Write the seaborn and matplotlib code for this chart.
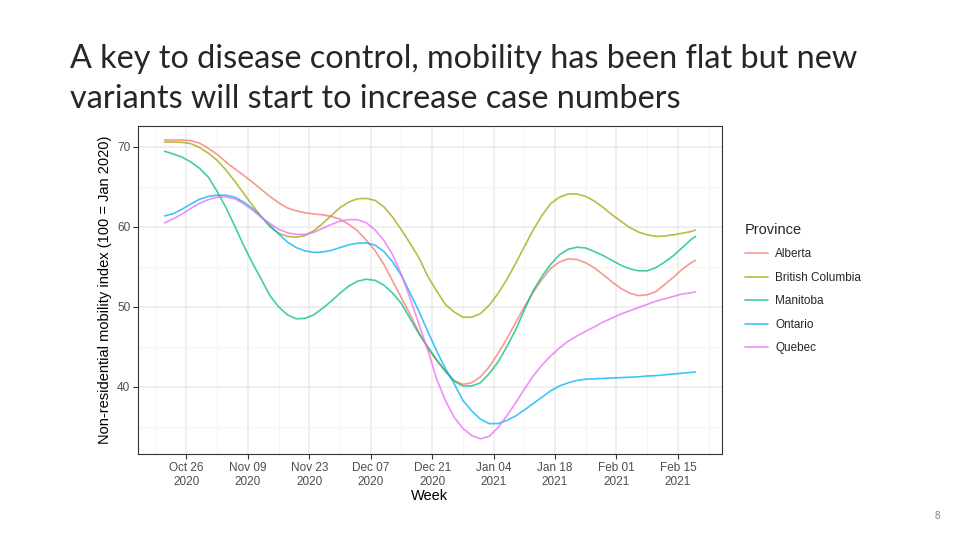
import pandas as pd
import seaborn as sns
import matplotlib.pyplot as plt
import matplotlib.dates as mdates

# smoothed mobility index, every 2 days from Oct 21 2020 (last one Feb 19 2021)
start = pd.Timestamp("2020-10-21")
day_offsets = list(range(0, 121, 2)) + [121]

alberta = [70.86, 70.85, 70.83, 70.78, 70.45, 69.8, 69.05, 68.1, 67.25, 66.45,
           65.6, 64.7, 63.8, 63.0, 62.35, 62.0, 61.75, 61.6, 61.5, 61.3,
           60.95, 60.3, 59.5, 58.3, 57.0, 55.3, 53.2, 51.1, 49.0, 46.8,
           44.8, 43.3, 41.9, 40.8, 40.3, 40.5, 41.25, 42.5, 44.15, 46.0,
           48.0, 50.0, 51.8, 53.4, 54.8, 55.6, 56.0, 55.9, 55.5, 54.85,
           54.0, 53.1, 52.3, 51.7, 51.4, 51.5, 51.9, 52.8, 53.7, 54.7,
           55.5, 55.8]
british_columbia = [70.6, 70.6, 70.55, 70.4, 69.9, 69.2, 68.3, 67.1, 65.7, 64.2,
                    62.7, 61.3, 60.0, 59.2, 58.8, 58.7, 58.9, 59.5, 60.4, 61.4,
                    62.4, 63.1, 63.5, 63.55, 63.3, 62.5, 61.2, 59.6, 57.9, 56.1,
                    53.8, 52.0, 50.3, 49.35, 48.7, 48.7, 49.15, 50.2, 51.65, 53.4,
                    55.4, 57.5, 59.6, 61.4, 62.9, 63.7, 64.1, 64.1, 63.8, 63.2,
                    62.4, 61.5, 60.7, 59.9, 59.35, 59.0, 58.8, 58.85, 59.0, 59.2,
                    59.4, 59.6]
manitoba = [69.45, 69.1, 68.7, 68.1, 67.3, 66.2, 64.4, 62.4, 60.1, 57.7,
            55.5, 53.5, 51.4, 50.0, 49.0, 48.5, 48.55, 49.0, 49.8, 50.7,
            51.7, 52.6, 53.2, 53.45, 53.3, 52.7, 51.7, 50.4, 48.5, 46.6,
            45.0, 43.4, 42.0, 40.7, 40.1, 40.1, 40.5, 41.65, 43.1, 45.0,
            47.1, 49.6, 52.0, 53.8, 55.3, 56.5, 57.2, 57.45, 57.35, 56.9,
            56.4, 55.8, 55.2, 54.75, 54.5, 54.5, 54.9, 55.6, 56.4, 57.4,
            58.4, 58.8]
ontario = [61.35, 61.65, 62.2, 62.85, 63.45, 63.8, 63.95, 63.95, 63.7, 63.1,
           62.3, 61.3, 60.2, 59.1, 58.1, 57.4, 57.0, 56.8, 56.85, 57.05,
           57.4, 57.75, 57.95, 58.0, 57.7, 56.9, 55.6, 53.9, 51.7, 49.4,
           46.9, 44.5, 42.3, 40.4, 38.3, 37.0, 35.95, 35.4, 35.4, 35.8,
           36.35, 37.1, 37.9, 38.7, 39.5, 40.1, 40.5, 40.8, 40.95, 41.0,
           41.05, 41.1, 41.15, 41.2, 41.25, 41.35, 41.4, 41.5, 41.6, 41.7,
           41.8, 41.85]
quebec = [60.5, 61.0, 61.6, 62.3, 62.95, 63.4, 63.7, 63.75, 63.5, 62.9,
          62.1, 61.2, 60.4, 59.7, 59.25, 59.05, 59.05, 59.3, 59.8, 60.3,
          60.7, 60.9, 60.9, 60.5, 59.6, 58.3, 56.5, 54.0, 51.0, 47.8,
          44.6, 41.0, 38.3, 36.2, 34.8, 33.9, 33.5, 33.8, 34.9, 36.35,
          38.0, 39.7, 41.35, 42.7, 43.85, 44.85, 45.7, 46.35, 46.95, 47.5,
          48.1, 48.6, 49.1, 49.5, 49.9, 50.3, 50.7, 51.0, 51.3, 51.6,
          51.75, 51.85]

provinces = ["Alberta", "British Columbia", "Manitoba", "Ontario", "Quebec"]
colors = ["#F8766D", "#A3A500", "#00BF7D", "#00B0F6", "#E76BF3"]

tick_dates = ["2020-10-26", "2020-11-09", "2020-11-23", "2020-12-07", "2020-12-21",
              "2021-01-04", "2021-01-18", "2021-02-01", "2021-02-15"]
tick_labels = ["Oct 26\n2020", "Nov 09\n2020", "Nov 23\n2020", "Dec 07\n2020", "Dec 21\n2020",
               "Jan 04\n2021", "Jan 18\n2021", "Feb 01\n2021", "Feb 15\n2021"]

dates = [start + pd.Timedelta(days=d) for d in day_offsets]
series = [alberta, british_columbia, manitoba, ontario, quebec]
df = pd.concat([pd.DataFrame({"Week": dates, "value": v, "Province": p})
                for p, v in zip(provinces, series)], ignore_index=True)

sns.set_style("white")
plt.rcParams["font.family"] = ["Liberation Sans", "DejaVu Sans"]

fig = plt.figure(figsize=(9.6, 5.38), dpi=100)
ax = fig.add_axes([138 / 960, 1 - 454 / 538, (722 - 138) / 960, (454 - 126) / 538])

sns.lineplot(data=df, x="Week", y="value", hue="Province", hue_order=provinces,
             palette=colors, linewidth=1.2, alpha=0.75, ax=ax)

# ggplot-like 5% expansion on x
x0 = mdates.date2num(dates[0])
x1 = mdates.date2num(dates[-1])
pad = (x1 - x0) * 0.05
ax.set_xlim(x0 - pad, x1 + pad)
ax.set_ylim(31.6, 72.6)

major = [mdates.date2num(pd.Timestamp(d)) for d in tick_dates]
ax.set_xticks(major)
ax.set_xticklabels(tick_labels)
ax.set_xticks([m - 7 for m in major] + [major[-1] + 7], minor=True)
ax.set_yticks([40, 50, 60, 70])
ax.set_yticks([35, 45, 55, 65], minor=True)

ax.grid(True, which="major", color="#EBEBEB", linewidth=1.1)
ax.grid(True, which="minor", color="#F2F2F2", linewidth=0.6)
ax.set_axisbelow(True)
for s in ax.spines.values():
    s.set_color("#333333")
    s.set_linewidth(0.8)
ax.tick_params(which="major", length=3.5, width=0.8, color="#333333",
               labelsize=8.5, labelcolor="#4D4D4D", pad=2, bottom=True, left=True)
ax.tick_params(which="minor", length=0)
for lab in ax.get_xticklabels():
    lab.set_linespacing(1.3)

ax.set_xlabel("Week", fontsize=10.5, color="black", labelpad=0.5)
ax.set_ylabel("Non-residential mobility index (100 = Jan 2020)", fontsize=10.5,
              color="black", labelpad=4)

handles, labels = ax.get_legend_handles_labels()
for h in handles:
    h.set_linewidth(1.2)
leg = ax.legend(handles, labels, title="Province", frameon=False, loc="upper left",
                bbox_to_anchor=(734 / 960, 1 - 212 / 538), bbox_transform=fig.transFigure,
                fontsize=8.5, title_fontsize=10.5, handlelength=2.0, labelspacing=0.98,
                handletextpad=0.6)
leg._legend_box.align = "left"

fig.text(70 / 960, 1 - 68 / 538, "A key to disease control, mobility has been flat but new",
         fontsize=23.3, family=["Lato", "DejaVu Sans"], va="baseline", ha="left")
fig.text(70 / 960, 1 - 108 / 538, "variants will start to increase case numbers",
         fontsize=23.3, family=["Lato", "DejaVu Sans"], va="baseline", ha="left")
fig.text(937 / 960, 1 - 516 / 538, "8", fontsize=7, color="#7F7F7F", ha="center", va="center")

fig.savefig("out.png", dpi=100)
